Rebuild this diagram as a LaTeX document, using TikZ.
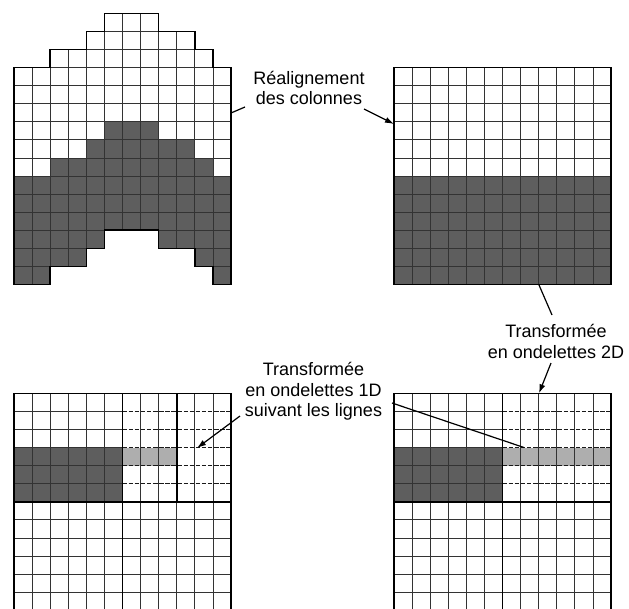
\documentclass[tikz,border=0pt]{standalone}
\usepackage{fontspec}
\setmainfont{Liberation Sans}
\usetikzlibrary{arrows.meta}
\definecolor{darkcell}{RGB}{94,94,94}
\definecolor{lightcell}{RGB}{174,174,174}
\begin{document}
\begin{tikzpicture}[x=1pt,y=-1pt,
  gridthin/.style={line width=0.8pt, black!80},
  thickline/.style={line width=1.6pt, black},
  dashline/.style={line width=1pt, black!90, dash pattern=on 4.5pt off 1.6pt},
  lbl/.style={font=\fontsize{18}{20.5}\selectfont, align=center, inner sep=0pt},
  conn/.style={line width=1.2pt, black},
  arr/.style={conn, -{Latex[length=9pt,width=6pt]}}]
\useasboundingbox (0,0) rectangle (629,608);

% ---- top-left staircase grid
\begin{scope}[shift={(14pt,-13.3pt)}, x=18.083pt, y=-18.083pt]
  \foreach \i/\s in {0/3,1/3,2/2,3/2,4/1,5/0,6/0,7/0,8/1,9/1,10/2,11/3} {
    \fill[darkcell] (\i,\s+6) rectangle ++(1,6);
    \foreach \r in {0,...,11} \draw[gridthin] (\i,\s+\r) rectangle ++(1,1);
  }
  \draw[thickline] (0,3) -- (2,3) -- (2,2) -- (4,2) -- (4,1) -- (5,1) -- (5,0) -- (8,0) -- (8,1) -- (10,1) -- (10,2) -- (11,2) -- (11,3) -- (12,3) -- (12,15) -- (11,15) -- (11,14) -- (10,14) -- (10,13) -- (8,13) -- (8,12) -- (5,12) -- (5,13) -- (4,13) -- (4,14) -- (2,14) -- (2,15) -- (0,15) -- cycle;
\end{scope}

% ---- top-right grid
\begin{scope}[shift={(394pt,-67.5pt)}, x=18.083pt, y=-18.083pt]
  \fill[darkcell] (0,6) rectangle (12,12);
  \foreach \k in {1,...,11} {
    \draw[gridthin] (\k,0) -- (\k,12);
    \draw[gridthin] (0,\k) -- (12,\k);
  }
  \draw[thickline] (0,0) rectangle (12,12);
\end{scope}

% ---- bottom-left grid
\begin{scope}[shift={(14pt,-393.3pt)}, x=18.083pt, y=-18.083pt]
  \fill[darkcell] (0,3) rectangle (6,6);
  \fill[lightcell] (6,3) rectangle (9,4);
  \foreach \k in {1,...,11} \draw[gridthin] (\k,0) -- (\k,12);
  \foreach \k in {1,...,5} {
    \draw[gridthin] (0,\k) -- (6,\k);
    \draw[dashline] (6,\k) -- (12,\k);
  }
  \foreach \k in {7,...,11} \draw[gridthin] (0,\k) -- (12,\k);
  \draw[thickline] (0,0) rectangle (12,12);
  \draw[thickline] (6,0) -- (6,12) (0,6) -- (12,6) (9,0) -- (9,6);
\end{scope}

% ---- bottom-right grid
\begin{scope}[shift={(394pt,-393.3pt)}, x=18.083pt, y=-18.083pt]
  \fill[darkcell] (0,3) rectangle (6,6);
  \fill[lightcell] (6,3) rectangle (12,4);
  \foreach \k in {1,...,11} \draw[gridthin] (\k,0) -- (\k,12);
  \foreach \k in {1,...,5} {
    \draw[gridthin] (0,\k) -- (6,\k);
    \draw[dashline] (6,\k) -- (12,\k);
  }
  \foreach \k in {7,...,11} \draw[gridthin] (0,\k) -- (12,\k);
  \draw[thickline] (0,0) rectangle (12,12);
  \draw[thickline] (6,0) -- (6,12) (0,6) -- (12,6);
\end{scope}

% ---- labels
\node[lbl] (realign) at (309,88) {Réalignement\\des colonnes};
\node[lbl] (t2d) at (556,341.5) {Transformée\\en ondelettes 2D};
\node[lbl] (t1d) at (313.5,391.5) {Transformée\\en ondelettes 1D\\suivant les lignes};

% ---- connectors
\coordinate (r1) at (245,107); \coordinate (g1) at (231,113);
\draw[conn] (r1) -- (g1);
\coordinate (r2) at (364,109); \coordinate (g2) at (394,124);
\draw[arr] (r2) -- (g2);
\coordinate (g3) at (539,285); \coordinate (t2a) at (552,315);
\draw[conn] (g3) -- (t2a);
\coordinate (t2b) at (551,363); \coordinate (g4) at (539,393.3);
\draw[arr] (t2b) -- (g4);
\coordinate (t1a) at (240,416); \coordinate (g5) at (197,448);
\draw[arr] (t1a) -- (g5);
\coordinate (t1b) at (392,403); \coordinate (g6) at (524,447.5);
\draw[conn] (t1b) -- (g6);
\end{tikzpicture}
\end{document}
